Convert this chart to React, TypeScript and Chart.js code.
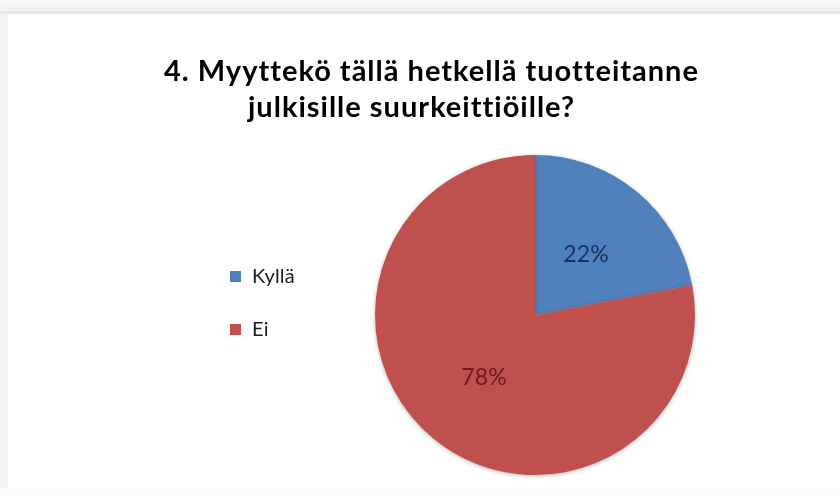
import React, { useEffect, useRef } from "react";
import { Chart, registerables } from "chart.js";

Chart.register(...registerables);

const titleLines = ["4. Myyttekö tällä hetkellä tuotteitanne", "julkisille suurkeittiöille?"];
const categories = ["Kyllä", "Ei"];
const shares = [22, 78];
const sliceColors = ["#4F81BD", "#C0504D"];
const labelColors = ["#1c2f5e", "#6e1a1a"];

const FONT = "Lato, 'Open Sans', sans-serif";

// Page frame: light grey bands around a white card
const framePlugin = {
  id: "frame",
  beforeDraw(chart: Chart) {
    const { ctx, width, height } = chart;
    ctx.save();
    ctx.fillStyle = "#f2f2f2";
    ctx.fillRect(0, 0, width, height);
    ctx.fillStyle = "#f8f8f8";
    ctx.fillRect(0, 0, width, 4);
    ctx.fillStyle = "#e6e6e6";
    ctx.fillRect(0, 11, width, 3);
    ctx.fillStyle = "#fafafa";
    ctx.fillRect(0, 488, width, height - 488);
    ctx.fillStyle = "#ffffff";
    ctx.fillRect(8, 14, width - 8, 474);
    ctx.restore();
  },
};

// Soft shadow under the pie
const shadowPlugin = {
  id: "pieShadow",
  beforeDatasetsDraw(chart: Chart) {
    const ctx = chart.ctx;
    ctx.save();
    ctx.shadowColor = "rgba(0,0,0,0.28)";
    ctx.shadowBlur = 4;
    ctx.shadowOffsetY = 1;
  },
  afterDatasetsDraw(chart: Chart) {
    chart.ctx.restore();
  },
};

// Title, legend and percentage labels
const textPlugin = {
  id: "texts",
  afterDraw(chart: Chart) {
    const { ctx } = chart;
    const c = ctx as any;
    ctx.save();
    ctx.fillStyle = "#000000";
    ctx.textBaseline = "alphabetic";
    ctx.textAlign = "left";
    ctx.font = `bold 29px ${FONT}`;
    c.letterSpacing = "1px";
    ctx.fillText(titleLines[0], 164, 81);
    ctx.fillText(titleLines[1], 248, 117);
    c.letterSpacing = "0.2px";

    // legend
    ctx.font = `20px ${FONT}`;
    ctx.textBaseline = "middle";
    categories.forEach((name, i) => {
      const y = 276 + i * 53;
      ctx.fillStyle = sliceColors[i];
      ctx.fillRect(230, y - 5, 11, 11);
      ctx.fillStyle = "#1a1a1a";
      ctx.fillText(name, 252, y + 1);
    });

    // percentage labels
    const meta = chart.getDatasetMeta(0);
    const total = shares.reduce((a, b) => a + b, 0);
    ctx.font = `23px ${FONT}`;
    ctx.textAlign = "center";
    meta.data.forEach((arc: any, i: number) => {
      const p = arc.tooltipPosition();
      ctx.fillStyle = labelColors[i];
      ctx.fillText(`${Math.round((shares[i] / total) * 100)}%`, p.x, p.y + 1);
    });
    ctx.restore();
  },
};

export default function App() {
  const ref = useRef<HTMLCanvasElement | null>(null);

  useEffect(() => {
    if (!ref.current) return;
    const chart = new Chart(ref.current, {
      type: "pie",
      data: {
        labels: categories,
        datasets: [
          {
            data: shares,
            backgroundColor: sliceColors,
            borderWidth: 0,
          },
        ],
      },
      options: {
        animation: false,
        responsive: false,
        events: [],
        layout: { padding: { left: 375, right: 145, top: 155, bottom: 20 } },
        plugins: {
          legend: { display: false },
          title: { display: false },
          tooltip: { enabled: false },
        },
      },
      plugins: [framePlugin, shadowPlugin, textPlugin],
    });
    return () => chart.destroy();
  }, []);

  return (
    <div style={{ position: "fixed", left: 0, top: 0, width: 840, height: 495 }}>
      <canvas ref={ref} width={840} height={495} style={{ display: "block" }} />
    </div>
  );
}
